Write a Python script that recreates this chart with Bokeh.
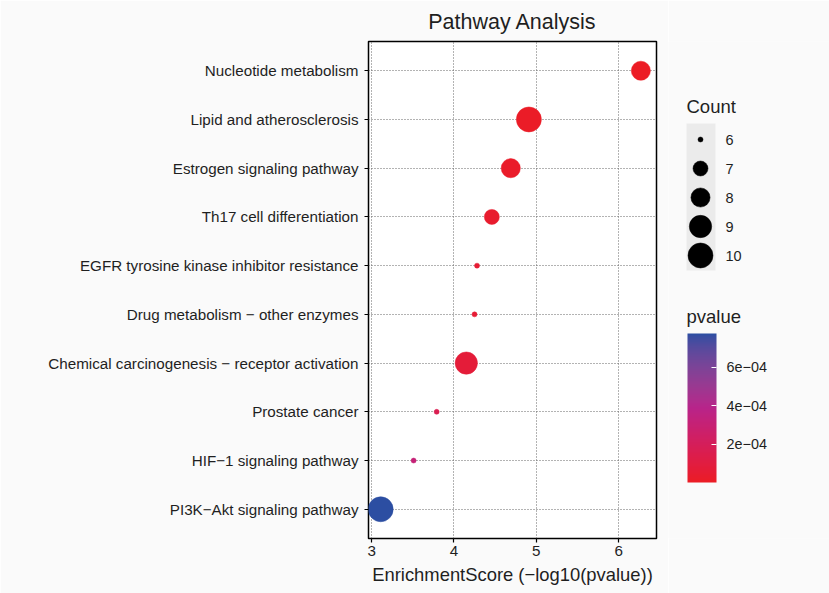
import numpy as np
from bokeh.plotting import figure
from bokeh.layouts import row
from bokeh.models import (ColumnDataSource, FactorRange, Range1d, FixedTicker,
                          LinearColorMapper, ColorBar, CustomJSTickFormatter, Title)
from bokeh.core.properties import value
from bokeh.embed import file_html
from bokeh.resources import INLINE

# ---------------- data ----------------
pathways = [
    "Nucleotide metabolism",
    "Lipid and atherosclerosis",
    "Estrogen signaling pathway",
    "Th17 cell differentiation",
    "EGFR tyrosine kinase inhibitor resistance",
    "Drug metabolism \u2212 other enzymes",
    "Chemical carcinogenesis \u2212 receptor activation",
    "Prostate cancer",
    "HIF\u22121 signaling pathway",
    "PI3K\u2212Akt signaling pathway",
]
enrichment_score = [6.27, 4.91, 4.69, 4.46, 4.28, 4.25, 4.15, 3.79, 3.51, 3.11]
counts = [8, 10, 8, 7, 6, 6, 9, 6, 6, 10]
count_levels = [6, 7, 8, 9, 10]
x_ticks = [3, 4, 5, 6]
pvalue_ticks = [2e-4, 4e-4, 6e-4]

FONT = "Liberation Sans"
BG = "#FAFAFA"
TXT = "#1f1f1f"
H = 593
TOP, BOTTOM = 41, 538          # panel edges (px from top)

pvalues = [10 ** (-s) for s in enrichment_score]
cmin, cmax = min(count_levels), max(count_levels)


def size_scale(c):
    # ggplot-like area scale: size range 1..6, drawn in px
    return 4.0 * (1 + 5 * np.sqrt((c - cmin) / (cmax - cmin))) + 1


# ---------------- Lab gradient (red -> magenta -> blue) ----------------
M = np.array([[0.4124564, 0.3575761, 0.1804375],
              [0.2126729, 0.7151522, 0.0721750],
              [0.0193339, 0.1191920, 0.9503041]])
Minv = np.linalg.inv(M)
WHITE = np.array([0.95047, 1.0, 1.08883])
D = 6 / 29


def hex2lab(h):
    rgb = np.array([int(h[i:i + 2], 16) / 255 for i in (1, 3, 5)])
    lin = np.where(rgb <= 0.04045, rgb / 12.92, ((rgb + 0.055) / 1.055) ** 2.4)
    xyz = M @ lin / WHITE
    f = np.where(xyz > D ** 3, np.cbrt(xyz), xyz / (3 * D * D) + 4 / 29)
    return np.array([116 * f[1] - 16, 500 * (f[0] - f[1]), 200 * (f[1] - f[2])])


def lab2hex(lab):
    L, a, b = lab
    fy = (L + 16) / 116
    f = np.array([fy + a / 500, fy, fy - b / 200])
    xyz = np.where(f > D, f ** 3, 3 * D * D * (f - 4 / 29)) * WHITE
    lin = np.clip(Minv @ xyz, 0, 1)
    rgb = np.where(lin <= 0.0031308, 12.92 * lin, 1.055 * lin ** (1 / 2.4) - 0.055)
    rgb = np.clip(np.round(rgb * 255), 0, 255).astype(int)
    return "#%02x%02x%02x" % tuple(rgb)


stops = [hex2lab("#EC1C24"), hex2lab("#B8248A"), hex2lab("#2C4EA2")]
palette = []
for t in np.linspace(0, 1, 256):
    if t <= 0.5:
        lab = stops[0] + (stops[1] - stops[0]) * (t / 0.5)
    else:
        lab = stops[1] + (stops[2] - stops[1]) * ((t - 0.5) / 0.5)
    palette.append(lab2hex(lab))
mapper = LinearColorMapper(palette=palette, low=min(pvalues), high=max(pvalues))

# ---------------- main plot ----------------
src = ColumnDataSource(dict(
    pathway=pathways,
    score=enrichment_score,
    count=counts,
    pvalue=pvalues,
    size=[size_scale(c) for c in counts],
))

p = figure(width=668, height=H, output_backend="svg", toolbar_location=None,
           x_range=Range1d(2.962, 6.46),
           y_range=FactorRange(factors=list(reversed(pathways)),
                               range_padding=0.1, range_padding_units="absolute"),
           min_border_left=368, min_border_right=12, min_border_top=TOP,
           min_border_bottom=H - BOTTOM)
p.title = Title(text="Pathway Analysis", align="center", text_font_size="21.5px",
                text_font=FONT, text_font_style="normal", text_color=TXT,
                standoff=15)
p.background_fill_color = "white"
p.border_fill_color = BG
p.outline_line_color = "black"
p.outline_line_width = 1.5

p.grid.grid_line_color = "#666666"
p.grid.grid_line_dash = "1 2"
p.grid.grid_line_width = 1

p.xaxis.ticker = FixedTicker(ticks=x_ticks)
p.xaxis.axis_label = "EnrichmentScore (\u2212log10(pvalue))"
p.xaxis.axis_label_text_font = FONT
p.xaxis.axis_label_text_font_size = "18.4px"
p.xaxis.axis_label_text_font_style = "normal"
p.xaxis.axis_label_text_color = TXT
p.xaxis.axis_label_standoff = 5
p.xaxis.major_label_standoff = 3

for ax in (p.xaxis, p.yaxis):
    ax.axis_line_color = None
    ax.major_tick_in = 0
    ax.major_tick_out = 4
    ax.major_tick_line_color = "black"
    ax.major_tick_line_width = 1.2
    ax.minor_tick_line_color = None
    ax.major_label_text_font = FONT
    ax.major_label_text_font_size = "15.2px"
    ax.major_label_text_color = TXT
p.yaxis.major_label_standoff = 6

p.scatter(x="score", y="pathway", size="size", source=src,
          fill_color={"field": "pvalue", "transform": mapper},
          line_color={"field": "pvalue", "transform": mapper}, line_width=0.5)

# ---------------- legends panel (data y == page px) ----------------
lg = figure(width=161, height=H, output_backend="svg", toolbar_location=None,
            title=None, x_range=Range1d(0, 161), y_range=Range1d(BOTTOM, TOP),
            min_border_left=0, min_border_right=0, min_border_top=TOP,
            min_border_bottom=H - BOTTOM, outline_line_color=None)
lg.axis.visible = False
lg.grid.visible = False
lg.background_fill_color = BG
lg.border_fill_color = BG

# Count (size) legend
n = len(count_levels)
leg_y = [139 + 29 * i for i in range(n)]
lg.text(x=[18], y=[106], text=["Count"], text_font=value(FONT), text_font_size="18.5px",
        text_baseline="middle", text_align="left", text_color=TXT)
lg.quad(left=18, right=47, top=123, bottom=270, fill_color="#EBEBEB", line_color=None)
lg.scatter(x=[32] * n, y=leg_y, size=[size_scale(c) for c in count_levels],
           fill_color="black", line_color="black", line_width=0.5)
lg.text(x=[57] * n, y=leg_y, text=[str(c) for c in count_levels], text_font=value(FONT),
        text_font_size="14.5px", text_baseline="middle", text_align="left", text_color=TXT)

# pvalue colour bar
lg.text(x=[18], y=[316], text=["pvalue"], text_font=value(FONT), text_font_size="18.5px",
        text_baseline="middle", text_align="left", text_color=TXT)
fmt = CustomJSTickFormatter(code="""
const s = tick.toExponential(0).split('e');
const e = parseInt(s[1]);
const a = Math.abs(e);
return s[0] + 'e' + (e < 0 ? '\\u2212' : '+') + (a < 10 ? '0' : '') + a;
""")
cb = ColorBar(color_mapper=mapper, ticker=FixedTicker(ticks=pvalue_ticks), formatter=fmt,
              width=29, height=149, padding=0, margin=0,
              major_label_text_font=FONT, major_label_text_font_size="14.4px",
              major_label_text_color=TXT, label_standoff=10,
              major_tick_in=5, major_tick_out=0, major_tick_line_color="white",
              minor_tick_line_color=None, bar_line_color=None,
              background_fill_alpha=0, border_line_color=None,
              location=(19, BOTTOM - 482))
lg.add_layout(cb, "center")

layout = row(p, lg, spacing=0)
open("out.html", "w").write(file_html(layout, INLINE))
